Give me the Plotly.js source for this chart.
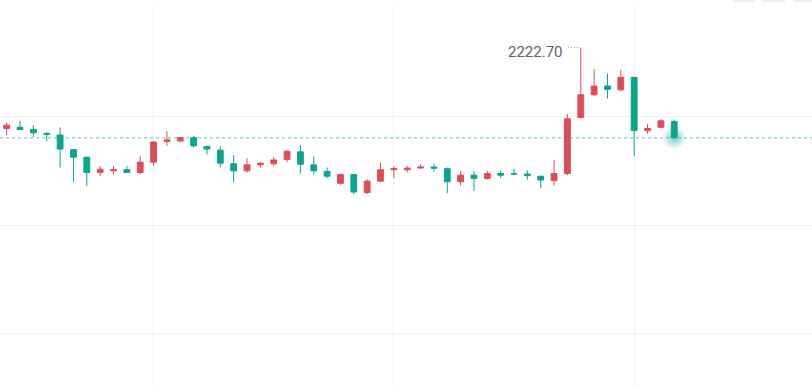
<!DOCTYPE html>
<html>
<head>
<meta charset="utf-8">
<script src="https://cdn.plot.ly/plotly-3.0.1.min.js"></script>
<style>html,body{margin:0;padding:0;background:#fff;}#chart{width:812px;height:388px;}</style>
</head>
<body>
<div id="chart"></div>
<script>
var times = ["09:15","09:30","09:45","10:00","10:15","10:30","10:45","11:00","11:15","11:30",
  "11:45","12:00","12:15","12:30","12:45","13:00","13:15","13:30","13:45","14:00",
  "14:15","14:30","14:45","15:00","15:15","15:30","15:45","16:00","16:15","16:30",
  "16:45","17:00","17:15","17:30","17:45","18:00","18:15","18:30","18:45","19:00",
  "19:15","19:30","19:45","20:00","20:15","20:30","20:45","21:00","21:15","21:30","21:45"];
var openP  = [2207.8,2208.0,2207.6,2206.9,2206.6,2203.9,2202.5,2199.7,2200.0,2200.2,
  2199.7,2201.6,2205.4,2205.5,2206.1,2204.5,2203.8,2201.3,2200.0,2201.1,
  2201.3,2202.1,2203.5,2201.1,2199.9,2197.7,2199.3,2196.0,2198.1,2200.2,
  2200.2,2200.5,2200.7,2200.4,2198.0,2199.2,2198.6,2199.5,2199.5,2199.4,
  2199.0,2198.2,2199.5,2209.8,2214.0,2215.6,2214.9,2217.2,2207.4,2208.0,2209.1];
var highP  = [2208.9,2209.2,2208.4,2207.1,2208.0,2203.9,2202.5,2200.9,2200.9,2200.9,
  2202.7,2205.5,2207.3,2206.2,2206.4,2204.6,2204.5,2202.9,2202.3,2201.6,
  2202.5,2203.8,2204.8,2202.7,2200.6,2199.5,2199.3,2198.4,2201.5,2200.9,
  2200.9,2201.2,2201.3,2200.6,2200.0,2200.0,2200.0,2200.1,2200.4,2200.1,
  2199.1,2202.0,2210.5,2222.7,2218.7,2217.9,2218.6,2217.2,2208.6,2209.5,2209.4];
var lowP   = [2206.5,2207.5,2206.2,2205.4,2200.6,2197.9,2197.2,2199.0,2199.4,2199.7,
  2199.4,2200.9,2204.6,2205.2,2204.3,2203.0,2200.6,2197.9,2199.7,2200.6,
  2200.9,2201.6,2199.5,2199.3,2198.7,2197.4,2195.7,2195.7,2197.9,2198.6,
  2199.7,2200.4,2199.8,2195.9,2197.3,2196.3,2198.4,2198.7,2199.3,2198.4,
  2196.8,2197.3,2199.2,2209.6,2213.8,2213.3,2214.6,2202.7,2206.8,2207.8,2206.1];
var closeP = [2208.4,2207.6,2207.0,2206.7,2204.0,2202.5,2199.7,2200.3,2200.2,2199.7,
  2201.6,2205.3,2205.7,2206.1,2204.6,2204.0,2201.4,2200.0,2201.1,2201.4,
  2202.0,2203.6,2201.2,2200.0,2199.0,2199.3,2196.1,2198.1,2200.2,2200.4,
  2200.5,2200.7,2200.5,2198.0,2199.2,2198.6,2199.5,2199.2,2199.4,2199.1,
  2198.3,2199.5,2209.6,2214.0,2215.6,2215.0,2217.2,2207.4,2207.8,2209.2,2206.1];
var gridTimes = ["12:00","16:30","21:00"];
var yTicks = [2170,2190,2210,2230];

var upColor = '#de4c58', downColor = '#0aa58a';
var n = times.length;
var lastClose = closeP[n-1];
var maxIdx = 0;
for (var i = 1; i < n; i++) if (highP[i] > highP[maxIdx]) maxIdx = i;

var traces = [{
  type: 'candlestick', x: times, open: openP, high: highP, low: lowP, close: closeP,
  increasing: {line: {color: upColor, width: 1}, fillcolor: upColor},
  decreasing: {line: {color: downColor, width: 1}, fillcolor: downColor},
  whiskerwidth: 0, hoverinfo: 'none', showlegend: false
}, {
  type: 'scatter', mode: 'markers', x: [times[n-1]], y: [lastClose],
  marker: {size: 24, color: 'rgba(10,165,138,0)', line: {width: 0},
           gradient: {type: 'radial', color: 'rgba(10,165,138,0.55)'}},
  hoverinfo: 'none', showlegend: false
}];

var layout = {
  width: 812, height: 388,
  margin: {l: 0, r: 0, t: 7, b: 0},
  paper_bgcolor: '#ffffff', plot_bgcolor: '#ffffff',
  boxgap: 0.38,
  showlegend: false,
  xaxis: {type: 'category', range: [-0.502, 60.32], rangeslider: {visible: false},
          tickmode: 'array', tickvals: gridTimes, showticklabels: false,
          showgrid: true, gridcolor: '#f1f2f4', gridwidth: 1, zeroline: false,
          showline: false, ticks: '', fixedrange: true},
  yaxis: {range: [2160.03, 2230.15], tickmode: 'array', tickvals: yTicks,
          showticklabels: false, showgrid: true, gridcolor: '#f1f2f4', gridwidth: 1,
          zeroline: false, showline: false, ticks: '', fixedrange: true},
  shapes: [
    {type: 'line', xref: 'paper', yref: 'y', x0: 0, x1: 1, y0: lastClose, y1: lastClose,
     line: {color: 'rgba(10,165,138,0.45)', width: 1.6, dash: '3px,3px'}, layer: 'below'},
    {type: 'line', xref: 'x', yref: 'y', x0: maxIdx - 0.95, x1: maxIdx - 0.05,
     y0: highP[maxIdx], y1: highP[maxIdx], line: {color: '#9aa0ab', width: 1, dash: '1px,2px'}},
    {type: 'rect', xref: 'paper', yref: 'paper', x0: 733/812, x1: 755/812, y0: 1.0131, y1: 1.03,
     fillcolor: '#e8ecf3', line: {width: 0}},
    {type: 'rect', xref: 'paper', yref: 'paper', x0: 763/812, x1: 785/812, y0: 1.0131, y1: 1.03,
     fillcolor: '#e8ecf3', line: {width: 0}},
    {type: 'rect', xref: 'paper', yref: 'paper', x0: 793/812, x1: 1, y0: 1.0131, y1: 1.03,
     fillcolor: '#e8ecf3', line: {width: 0}}
  ],
  annotations: [{
    x: times[maxIdx], y: highP[maxIdx], xref: 'x', yref: 'y',
    text: highP[maxIdx].toFixed(2), showarrow: false,
    xanchor: 'right', yanchor: 'middle', xshift: -16, yshift: -5,
    font: {family: 'Roboto, sans-serif', size: 15, color: '#5c6170'}
  }]
};

Plotly.newPlot('chart', traces, layout, {displayModeBar: false, staticPlot: true});
</script>
</body>
</html>
